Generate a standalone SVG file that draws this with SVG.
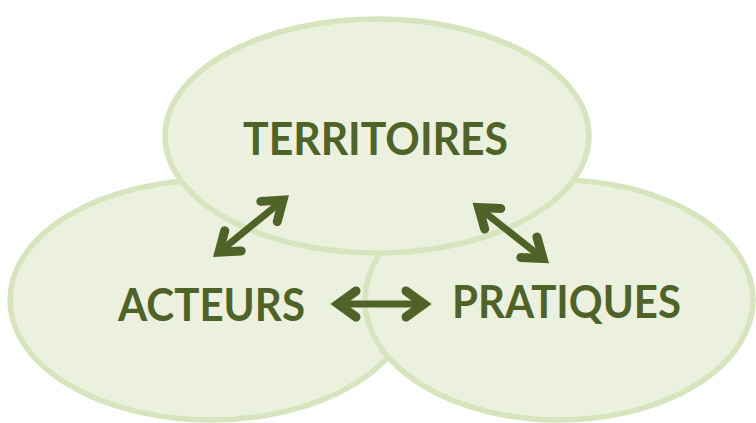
<svg xmlns="http://www.w3.org/2000/svg" width="756" height="423" viewBox="0 0 756 423">
  <style>
    .bubble { fill: #ebf1de; stroke: #d7e4bd; stroke-width: 5.5; }
    .label { font-family: Lato, "Open Sans", "Liberation Sans", sans-serif; font-weight: bold; font-size: 46px; fill: #4f6228; }
    .conn { stroke: #4f6228; stroke-width: 7; fill: none; marker-start: url(#head); marker-end: url(#head); }
  </style>
  <defs>
    <marker id="head" markerUnits="userSpaceOnUse" viewBox="-25 -20 35 40" markerWidth="35" markerHeight="40" refX="0" refY="0" orient="auto-start-reverse" overflow="visible">
      <path d="M -18 -13 L 0 0 L -18 13" fill="none" stroke="#4f6228" stroke-width="9" stroke-linejoin="miter" stroke-linecap="round"/>
    </marker>
  </defs>
  <rect width="756" height="423" fill="#ffffff"/>
  <g id="node-acteurs">
    <ellipse class="bubble" cx="211" cy="300" rx="201" ry="120"/>
  </g>
  <g id="node-pratiques">
    <ellipse class="bubble" cx="559" cy="300" rx="194" ry="120"/>
  </g>
  <g id="node-territoires">
    <ellipse class="bubble" cx="377" cy="136" rx="212" ry="117"/>
    <text class="label" x="243" y="155" textLength="265" lengthAdjust="spacingAndGlyphs">TERRITOIRES</text>
  </g>
  <g id="labels-lower">
    <text class="label" x="118" y="321" textLength="187" lengthAdjust="spacingAndGlyphs">ACTEURS</text>
    <text class="label" x="452" y="318" textLength="229" lengthAdjust="spacingAndGlyphs">PRATIQUES</text>
  </g>
  <g id="connectors">
    <line class="conn" x1="219" y1="252.2" x2="283" y2="200.1"/>
    <line class="conn" x1="478.6" y1="207.6" x2="543" y2="258.4"/>
    <line class="conn" x1="338" y1="304" x2="424" y2="304"/>
  </g>
</svg>
